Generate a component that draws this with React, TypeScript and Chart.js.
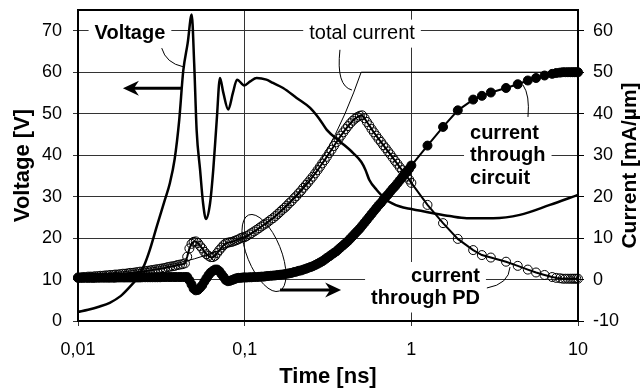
import React, { useEffect, useRef } from "react";
import { Chart, registerables } from "chart.js";

Chart.register(...registerables);

// ---------- axis ticks ----------
const timeTicks = [0.01, 0.1, 1, 10];
const timeTickLabels = ["0,01", "0,1", "1", "10"];
const voltageTicks = [0, 10, 20, 30, 40, 50, 60, 70];
const currentTicks = [-10, 0, 10, 20, 30, 40, 50, 60];

// ---------- Voltage (left axis) ----------
const voltageTime = [
  0.01, 0.0115, 0.0135, 0.0155, 0.018, 0.02, 0.0225, 0.025, 0.027, 0.0297,
  0.0332, 0.0356, 0.038, 0.0405, 0.0428, 0.0455, 0.0481, 0.0498, 0.0515, 0.054,
  0.0563, 0.0586, 0.062, 0.0648, 0.068, 0.0711, 0.0745, 0.0797, 0.085, 0.09,
  0.0994, 0.108, 0.118, 0.135, 0.148, 0.17, 0.205, 0.247, 0.28, 0.311,
  0.373, 0.448, 0.5, 0.53, 0.56, 0.62, 0.71, 0.855, 1.0, 1.35,
  1.7, 2.15, 3.1, 4.48, 6.78, 10,
];
const voltage = [
  2.2, 2.7, 3.5, 4.4, 6.0, 7.8, 10.2, 13.5, 17.2, 22.8,
  29.2, 33.3, 39, 48.5, 60.3, 67, 73.9, 62, 46, 36.5,
  28.4, 24.6, 28.4, 36.5, 48.5, 58.6, 55, 51, 55, 58.2,
  56.8, 57.8, 58.6, 58.2, 57.4, 56.2, 53.8, 51.4, 48.8, 46.1,
  43.3, 40.5, 38.4, 36.5, 34, 31.6, 29.2, 27.6, 27, 26,
  25.3, 24.8, 24.8, 25.6, 28, 30.4,
];

// ---------- total current (right axis) ----------
const totalTime = [0.01, 0.015, 0.02, 0.03, 0.04, 0.05, 0.06, 0.07, 0.08, 0.1, 0.12, 0.15, 0.2, 0.25, 0.3, 0.35, 0.4, 0.45, 0.5, 10];
const totalCurrent = [1, 1.5, 2, 3, 4, 5, 6, 7, 8, 10, 12, 15, 20, 25, 30, 35, 40, 45, 50, 50];

// ---------- sampled currents (right axis) ----------
const sampleTime = [
  // 0.01 .. 0.044
  0.01, 0.01035, 0.0107, 0.0111, 0.0115, 0.0119, 0.0123, 0.0127, 0.0132, 0.0136,
  0.0141, 0.0146, 0.0151, 0.0156, 0.0162, 0.0167, 0.0173, 0.0179, 0.0186, 0.0192,
  0.0199, 0.0206, 0.0213, 0.022, 0.0228, 0.0236, 0.0244, 0.0253, 0.0262, 0.0271,
  0.028, 0.029, 0.03, 0.0311, 0.0322, 0.0333, 0.0345, 0.0357, 0.0369, 0.0382,
  0.0395, 0.0409, 0.0423, 0.0438,
  // 0.045 .. 0.098
  0.0452, 0.0466, 0.048, 0.0494, 0.0509, 0.0524, 0.054, 0.0556, 0.0573, 0.059,
  0.0608, 0.0626, 0.0645, 0.0664, 0.0684, 0.0705, 0.0726, 0.0748, 0.077, 0.0793,
  0.0817, 0.0842, 0.0867, 0.0893, 0.092, 0.0947, 0.0976,
  // 0.1 .. 0.97
  0.1, 0.103, 0.107, 0.11, 0.114, 0.118, 0.122, 0.126, 0.13, 0.134,
  0.138, 0.143, 0.148, 0.153, 0.158, 0.163, 0.168, 0.174, 0.179, 0.185,
  0.191, 0.198, 0.204, 0.211, 0.218, 0.225, 0.233, 0.24, 0.248, 0.256,
  0.265, 0.274, 0.283, 0.292, 0.302, 0.311, 0.322, 0.332, 0.343, 0.355,
  0.366, 0.378, 0.391, 0.404, 0.417, 0.431, 0.445, 0.46, 0.475, 0.491,
  0.507, 0.524, 0.541, 0.559, 0.577, 0.596, 0.616, 0.636, 0.657, 0.679,
  0.701, 0.725, 0.748, 0.773, 0.799, 0.825, 0.852, 0.88, 0.91, 0.94,
  0.97,
  // 1 .. 10
  1.0, 1.25, 1.55, 1.9, 2.35, 2.65, 3.0, 3.7, 4.35, 5.0,
  5.6, 6.3, 7.0, 7.4, 7.8, 8.1, 8.4, 8.7, 9.0, 9.25,
  9.5, 9.75, 10,
];
const currentPD = [
  0.5, 0.5, 0.6, 0.6, 0.7, 0.7, 0.7, 0.8, 0.8, 0.9,
  0.9, 1.0, 1.0, 1.1, 1.1, 1.2, 1.2, 1.3, 1.4, 1.4,
  1.5, 1.6, 1.6, 1.7, 1.8, 1.9, 1.9, 2.0, 2.1, 2.2,
  2.3, 2.4, 2.5, 2.6, 2.7, 2.8, 3.0, 3.1, 3.2, 3.3,
  3.5, 3.6, 3.7, 3.9,
  5.5, 7.5, 8.6, 9.1, 9.2, 8.8, 8.1, 7.5, 6.7, 6.1,
  5.7, 5.4, 5.4, 5.7, 6.4, 7.1, 7.7, 8.3, 8.7, 8.9,
  9.0, 9.1, 9.3, 9.5, 9.7, 10.0, 10.2,
  10.2, 10.5, 10.9, 11.2, 11.6, 12.0, 12.4, 12.8, 13.2, 13.5,
  13.9, 14.4, 14.8, 15.3, 15.8, 16.3, 16.8, 17.3, 17.8, 18.4,
  18.9, 19.6, 20.1, 20.8, 21.4, 22.1, 22.8, 23.4, 24.1, 24.8,
  25.6, 26.4, 27.2, 28.0, 28.8, 29.6, 30.5, 31.3, 32.2, 33.1,
  33.9, 34.7, 35.5, 36.3, 37.0, 37.7, 38.3, 38.8, 39.2, 39.5,
  39.6, 38.9, 38.0, 37.2, 36.3, 35.5, 34.7, 33.9, 33.2, 32.4,
  31.7, 30.9, 30.2, 29.4, 28.6, 27.9, 27.1, 26.4, 25.6, 24.8,
  24.1,
  23.3, 18.0, 13.6, 9.8, 7.1, 5.9, 5.3, 4.3, 3.3, 2.4,
  1.7, 1.1, 0.6, 0.4, 0.3, 0.2, 0.2, 0.2, 0.2, 0.2,
  0.2, 0.2, 0.2,
];
const currentCircuit = [
  0.4, 0.4, 0.4, 0.4, 0.4, 0.4, 0.4, 0.4, 0.45, 0.45,
  0.45, 0.45, 0.45, 0.45, 0.45, 0.45, 0.5, 0.5, 0.5, 0.5,
  0.5, 0.5, 0.5, 0.5, 0.5, 0.5, 0.55, 0.55, 0.55, 0.55,
  0.55, 0.55, 0.55, 0.55, 0.6, 0.6, 0.6, 0.6, 0.6, 0.6,
  0.6, 0.6, 0.6, 0.6,
  0.6, -0.2, -1.2, -2.2, -2.6, -2.5, -2.0, -1.4, -0.5, 0.3,
  1.1, 1.7, 2.1, 2.4, 2.4, 2.0, 1.3, 0.6, -0.1, -0.4,
  -0.3, -0.1, 0.1, 0.3, 0.4, 0.4, 0.5,
  0.5, 0.5, 0.55, 0.55, 0.6, 0.6, 0.65, 0.7, 0.7, 0.8,
  0.85, 0.9, 0.95, 1.0, 1.1, 1.15, 1.2, 1.3, 1.4, 1.5,
  1.6, 1.8, 1.9, 2.1, 2.2, 2.4, 2.6, 2.8, 3.0, 3.2,
  3.5, 3.8, 4.1, 4.4, 4.8, 5.2, 5.6, 6.0, 6.4, 6.8,
  7.3, 7.8, 8.3, 8.8, 9.3, 9.9, 10.5, 11.1, 11.7, 12.3,
  13.0, 13.7, 14.4, 15.1, 15.8, 16.5, 17.2, 17.9, 18.5, 19.2,
  19.9, 20.5, 21.2, 21.9, 22.5, 23.2, 23.9, 24.6, 25.3, 26.0,
  26.7,
  27.5, 32.3, 36.8, 40.8, 43.4, 44.3, 45.1, 46.2, 47.1, 48.0,
  48.6, 49.2, 49.6, 49.8, 49.9, 50, 50, 50, 50, 50,
  50, 50, 50,
];

const FONT = "'Liberation Sans', Arial, sans-serif";

type Block = { lines: string[]; t: number; v: number; align: CanvasTextAlign; bold: boolean };
const labelBlocks: Block[] = [
  { lines: ["Voltage"], t: 0.0205, v: 69.3, align: "center", bold: true },
  { lines: ["total current"], t: 0.506, v: 69.3, align: "center", bold: false },
  { lines: ["current", "through", "circuit"], t: 2.25, v: 45.3, align: "left", bold: true },
  { lines: ["current", "through PD"], t: 2.58, v: 10.85, align: "right", bold: true },
];
const LINE_GAP = 22.5;
const LABEL_SIZE = 20;

function blockRect(chart: any, ctx: CanvasRenderingContext2D, b: Block) {
  const x = chart.scales.x.getPixelForValue(b.t);
  const y = chart.scales.y.getPixelForValue(b.v);
  ctx.font = `${b.bold ? "bold " : ""}${LABEL_SIZE}px ${FONT}`;
  const w = Math.max(...b.lines.map((l) => ctx.measureText(l).width));
  let left = x - w / 2;
  if (b.align === "left") left = x;
  if (b.align === "right") left = x - w;
  return { x, y, left: left - 6, top: y - 14, w: w + 12, h: (b.lines.length - 1) * LINE_GAP + 28 };
}

const overlayPlugin = {
  id: "overlay",
  beforeDatasetsDraw(chart: any) {
    const ctx: CanvasRenderingContext2D = chart.ctx;
    ctx.save();
    ctx.fillStyle = "#fff";
    for (const b of labelBlocks) {
      const r = blockRect(chart, ctx, b);
      ctx.fillRect(r.left, r.top, r.w, r.h);
    }
    ctx.fillStyle = "#000";
    ctx.textBaseline = "middle";
    for (const b of labelBlocks) {
      const r = blockRect(chart, ctx, b);
      ctx.textAlign = b.align;
      b.lines.forEach((l, i) => ctx.fillText(l, r.x, r.y + i * LINE_GAP));
    }
    ctx.restore();
  },
  afterDatasetsDraw(chart: any) {
    const ctx: CanvasRenderingContext2D = chart.ctx;
    const sx = chart.scales.x;
    const sy = chart.scales.y;
    const P = (t: number, v: number) => [sx.getPixelForValue(t), sy.getPixelForValue(v)];
    const { left, right, top, bottom } = chart.chartArea;
    ctx.save();

    // leader lines
    ctx.strokeStyle = "#000";
    ctx.lineWidth = 1;
    const leaders = [
      [[0.0318, 65.8], [0.0337, 62.2], [0.0428, 61.3]],
      [[0.373, 65.4], [0.353, 56.7], [0.44, 55.7]],
      [[4.68, 56.9], [5.15, 54.5], [5.01, 49.2]],
      [[2.84, 7.96], [3.85, 8.9], [3.91, 13.0]],
    ];
    for (const [a, c, e] of leaders) {
      const [ax, ay] = P(a[0], a[1]);
      const [cx, cy] = P(c[0], c[1]);
      const [ex, ey] = P(e[0], e[1]);
      ctx.beginPath();
      ctx.moveTo(ax, ay);
      ctx.quadraticCurveTo(cx, cy, ex, ey);
      ctx.stroke();
    }

    // ellipse
    const [ecx, ecy] = P(0.1306, 16.4);
    ctx.beginPath();
    ctx.ellipse(ecx, ecy, 41, 17, (68 * Math.PI) / 180, 0, Math.PI * 2);
    ctx.stroke();

    // arrows
    const arrow = (t1: number, t2: number, v: number) => {
      const [x1, y] = P(t1, v);
      const [x2] = P(t2, v);
      const d = x2 > x1 ? 1 : -1;
      ctx.lineWidth = 3;
      ctx.beginPath();
      ctx.moveTo(x1, y);
      ctx.lineTo(x2 - d * 8, y);
      ctx.stroke();
      ctx.beginPath();
      ctx.moveTo(x2, y);
      ctx.lineTo(x2 - d * 16, y - 7.5);
      ctx.lineTo(x2 - d * 11, y);
      ctx.lineTo(x2 - d * 16, y + 7.5);
      ctx.closePath();
      ctx.fill();
    };
    ctx.fillStyle = "#000";
    arrow(0.0419, 0.0186, 56.1);
    arrow(0.163, 0.379, 7.5);

    // frame
    ctx.lineWidth = 2;
    ctx.strokeRect(left, top, right - left, bottom - top);

    // right axis title (reads bottom to top)
    ctx.font = `bold 21px ${FONT}`;
    ctx.textAlign = "center";
    ctx.textBaseline = "middle";
    ctx.translate(630, (top + bottom) / 2);
    ctx.rotate(-Math.PI / 2);
    ctx.fillText("Current [mA/µm]", 0, 0);
    ctx.restore();
  },
};

const pts = (xs: number[], ys: number[]) => xs.map((x, i) => ({ x, y: ys[i] }));

export default function App() {
  const ref = useRef<HTMLCanvasElement | null>(null);
  useEffect(() => {
    if (!ref.current) return;
    Chart.defaults.font.family = FONT;
    Chart.defaults.font.size = 18;
    Chart.defaults.color = "#000";
    const chart = new Chart(ref.current, {
      type: "line",
      data: {
        datasets: [
          {
            label: "current through circuit",
            data: pts(sampleTime, currentCircuit),
            yAxisID: "y1",
            borderColor: "#000",
            borderWidth: 2,
            pointRadius: 4.5,
            pointBackgroundColor: "#000",
            pointBorderColor: "#000",
            pointBorderWidth: 1,
            tension: 0,
            clip: 8,
            order: 0,
          },
          {
            label: "current through PD",
            data: pts(sampleTime, currentPD),
            yAxisID: "y1",
            borderColor: "#000",
            borderWidth: 2,
            pointRadius: 4.5,
            pointBackgroundColor: "rgba(0,0,0,0)",
            pointBorderColor: "#000",
            pointBorderWidth: 1,
            tension: 0,
            clip: 8,
            order: 1,
          },
          {
            label: "total current",
            data: pts(totalTime, totalCurrent),
            yAxisID: "y1",
            borderColor: "#000",
            borderWidth: 1,
            pointRadius: 0,
            tension: 0,
            order: 2,
          },
          {
            label: "Voltage",
            data: pts(voltageTime, voltage),
            yAxisID: "y",
            borderColor: "#000",
            borderWidth: 2.5,
            pointRadius: 0,
            cubicInterpolationMode: "monotone",
            order: 3,
          },
        ],
      },
      options: {
        responsive: false,
        animation: false,
        events: [],
        layout: { padding: { top: 10, left: 0, right: 0, bottom: 0 } },
        plugins: { legend: { display: false }, tooltip: { enabled: false } },
        scales: {
          x: {
            type: "logarithmic",
            position: "bottom",
            min: 0.01,
            max: 10,
            afterBuildTicks: (s: any) => {
              s.ticks = timeTicks.map((v) => ({ value: v }));
            },
            afterFit: (s: any) => {
              s.height = 71;
              s.paddingLeft = 0;
              s.paddingRight = 0;
            },
            ticks: {
              autoSkip: false,
              maxRotation: 0,
              padding: 13,
              callback: (_v: any, i: number) => timeTickLabels[i] ?? "",
            },
            grid: { color: "#333", lineWidth: 1, tickLength: 5, drawTicks: true },
            border: { display: false },
            title: {
              display: true,
              text: "Time [ns]",
              font: { size: 22, weight: "bold" },
              padding: { top: 0, bottom: 2 },
            },
          },
          y: {
            type: "linear",
            position: "left",
            min: 0,
            max: 75,
            afterBuildTicks: (s: any) => {
              s.ticks = voltageTicks.map((v) => ({ value: v }));
            },
            afterFit: (s: any) => {
              s.width = 78;
              s.paddingTop = 0;
              s.paddingBottom = 0;
            },
            ticks: { padding: 11, stepSize: 10 },
            grid: { color: "#333", lineWidth: 1, tickLength: 5, drawTicks: true },
            border: { display: false },
            title: {
              display: true,
              text: "Voltage [V]",
              font: { size: 22, weight: "bold" },
              padding: { top: 10, bottom: 0 },
            },
          },
          y1: {
            type: "linear",
            position: "right",
            min: -10,
            max: 65,
            afterBuildTicks: (s: any) => {
              s.ticks = currentTicks.map((v) => ({ value: v }));
            },
            afterFit: (s: any) => {
              s.width = 64;
              s.paddingTop = 0;
              s.paddingBottom = 0;
            },
            ticks: { padding: 9, stepSize: 10 },
            grid: { color: "#000", lineWidth: 1, tickLength: 6, drawTicks: true, drawOnChartArea: false },
            border: { display: false },
          },
        },
      },
      plugins: [overlayPlugin],
    } as any);
    return () => chart.destroy();
  }, []);

  return (
    <div style={{ position: "absolute", left: 0, top: 0, width: 642, height: 392, background: "#fff" }}>
      <canvas ref={ref} width={642} height={392} />
    </div>
  );
}
